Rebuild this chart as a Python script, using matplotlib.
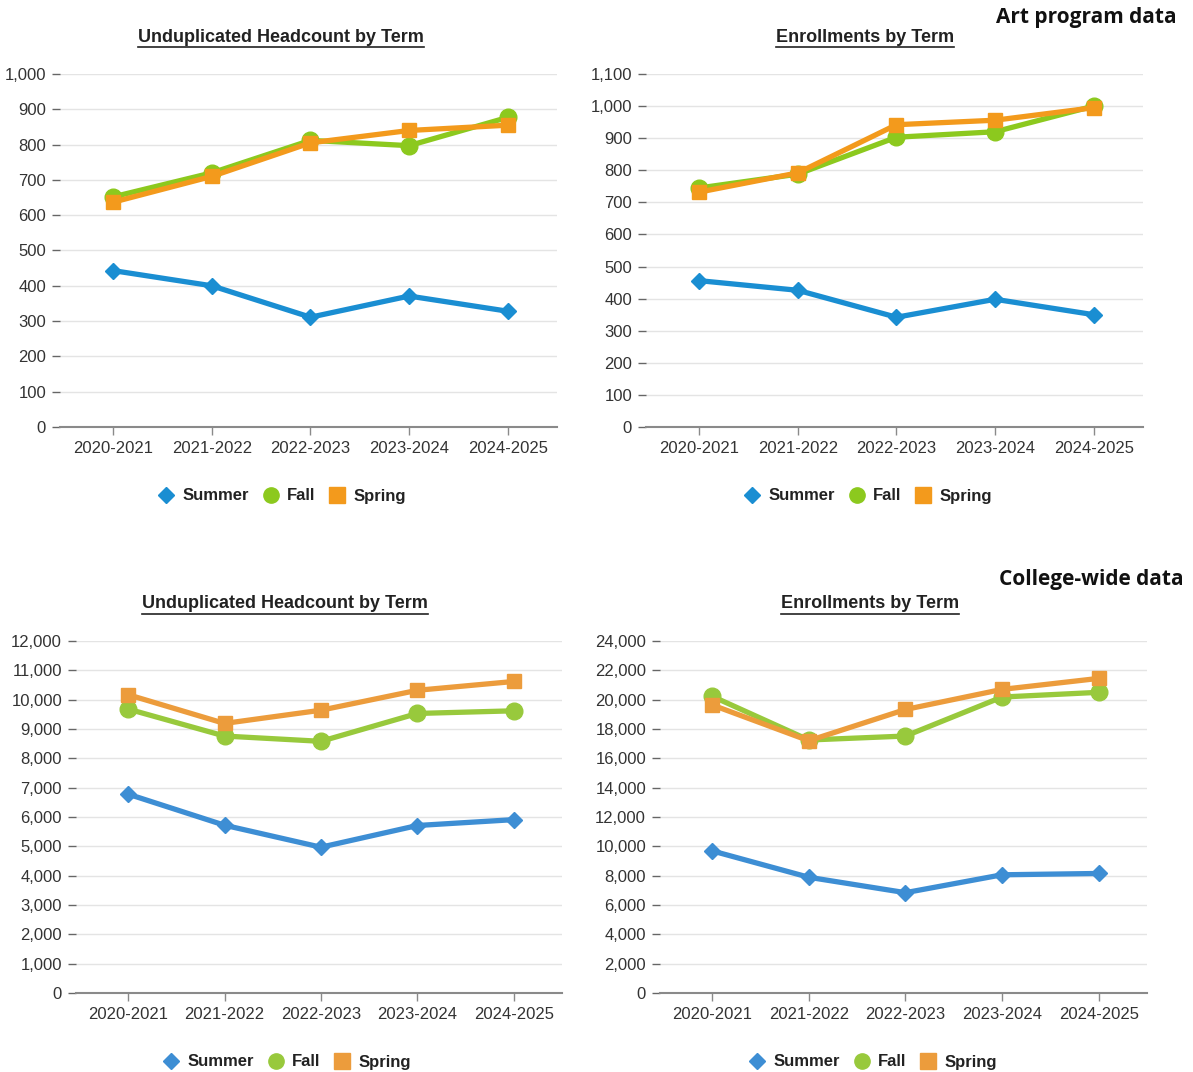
import matplotlib.pyplot as plt
from matplotlib.lines import Line2D
from matplotlib.ticker import FuncFormatter

years = ['2020-2021', '2021-2022', '2022-2023', '2023-2024', '2024-2025']

# Art program
art_head_summer = [443, 400, 311, 371, 328]
art_head_fall = [652, 720, 812, 797, 877]
art_head_spring = [637, 710, 805, 840, 855]

art_enr_summer = [456, 426, 342, 398, 350]
art_enr_fall = [745, 788, 903, 920, 1000]
art_enr_spring = [732, 792, 942, 956, 995]

# College-wide
col_head_summer = [6780, 5720, 4970, 5710, 5910]
col_head_fall = [9680, 8760, 8580, 9530, 9620]
col_head_spring = [10170, 9190, 9640, 10320, 10620]

col_enr_summer = [9690, 7890, 6840, 8060, 8150]
col_enr_fall = [20230, 17250, 17520, 20180, 20500]
col_enr_spring = [19640, 17200, 19330, 20700, 21450]

W, H = 1193, 1072
top_colors = ['#1a8ed2', '#8cc91e', '#f39a1c']
bot_colors = ['#3d8ed4', '#98c93c', '#ec9c3c']

plt.rcParams['font.family'] = ['Liberation Sans', 'DejaVu Sans']

fig = plt.figure(figsize=(W / 100, H / 100), dpi=100)


def px_axes(left, right, top, bottom):
    return fig.add_axes([left / W, 1 - bottom / H, (right - left) / W, (bottom - top) / H])


def draw_panel(ax, summer, fall, spring, ymax, ystep, colors):
    x = list(range(len(years)))
    ax.plot(x, summer, color=colors[0], lw=3.8, marker='D', ms=8.5, zorder=3)
    ax.plot(x, fall, color=colors[1], lw=3.8, marker='o', ms=12, zorder=4)
    ax.plot(x, spring, color=colors[2], lw=3.8, marker='s', ms=10.5, zorder=5)
    ax.set_xlim(-0.54, 4.5)
    ax.set_ylim(0, ymax)
    ax.set_yticks(range(0, ymax + 1, ystep))
    ax.yaxis.set_major_formatter(FuncFormatter(lambda v, p: '{:,.0f}'.format(v)))
    ax.set_xticks(x)
    ax.set_xticklabels(years)
    ax.grid(axis='y', color='#e4e4e4', lw=1)
    ax.set_axisbelow(True)
    for s in ['top', 'right', 'left']:
        ax.spines[s].set_visible(False)
    ax.spines['bottom'].set_color('#8a8a8a')
    ax.spines['bottom'].set_linewidth(1.5)
    ax.tick_params(axis='y', length=6, width=1, color='#666666', pad=4,
                   labelsize=12, labelcolor='#333333')
    ax.tick_params(axis='x', length=6, width=1, color='#8a8a8a', pad=4,
                   labelsize=12, labelcolor='#333333')


ax1 = px_axes(60, 557, 74, 427)
draw_panel(ax1, art_head_summer, art_head_fall, art_head_spring, 1000, 100, top_colors)
ax2 = px_axes(646, 1143, 74, 427)
draw_panel(ax2, art_enr_summer, art_enr_fall, art_enr_spring, 1100, 100, top_colors)
ax3 = px_axes(76, 562, 641, 993)
draw_panel(ax3, col_head_summer, col_head_fall, col_head_spring, 12000, 1000, bot_colors)
ax4 = px_axes(660, 1147, 641, 993)
draw_panel(ax4, col_enr_summer, col_enr_fall, col_enr_spring, 24000, 2000, bot_colors)

titles = [
    ('Unduplicated Headcount by Term', 281, 37),
    ('Enrollments by Term', 865, 37),
    ('Unduplicated Headcount by Term', 285, 604),
    ('Enrollments by Term', 870, 604),
]
title_objs = []
for txt, cx, cy in titles:
    t = fig.text(cx / W, 1 - cy / H, txt, ha='center', va='center',
                 fontsize=13, fontweight='bold', color='#222222')
    title_objs.append(t)

fig.text(1177 / W, 1 - 17 / H, 'Art program data', ha='right', va='center',
         fontsize=15, fontweight='bold', color='#111111', family=['Open Sans', 'DejaVu Sans'])
fig.text(1184 / W, 1 - 579 / H, 'College-wide data', ha='right', va='center',
         fontsize=15, fontweight='bold', color='#111111', family=['Open Sans', 'DejaVu Sans'])


def legend_at(cx, cy, colors):
    handles = [
        Line2D([], [], ls='none', marker='D', ms=8.5, color=colors[0]),
        Line2D([], [], ls='none', marker='o', ms=11, color=colors[1]),
        Line2D([], [], ls='none', marker='s', ms=11, color=colors[2]),
    ]
    leg = fig.legend(handles, ['Summer', 'Fall', 'Spring'], loc='center',
                     bbox_to_anchor=(cx / W, 1 - cy / H), ncol=3, frameon=False,
                     handlelength=1.0, handletextpad=0.5, columnspacing=0.8,
                     prop={'weight': 'bold', 'size': 12})
    for t in leg.get_texts():
        t.set_color('#222222')


legend_at(282, 496, top_colors)
legend_at(868, 496, top_colors)
legend_at(287, 1062, bot_colors)
legend_at(873, 1062, bot_colors)

# underline the panel titles
fig.canvas.draw()
r = fig.canvas.get_renderer()
for t in title_objs:
    bb = t.get_window_extent(renderer=r)
    y = (bb.y0 - 1) / H
    fig.add_artist(Line2D([bb.x0 / W, bb.x1 / W], [y, y], color='#222222', lw=1.2))

fig.savefig('out.png', dpi=100)
